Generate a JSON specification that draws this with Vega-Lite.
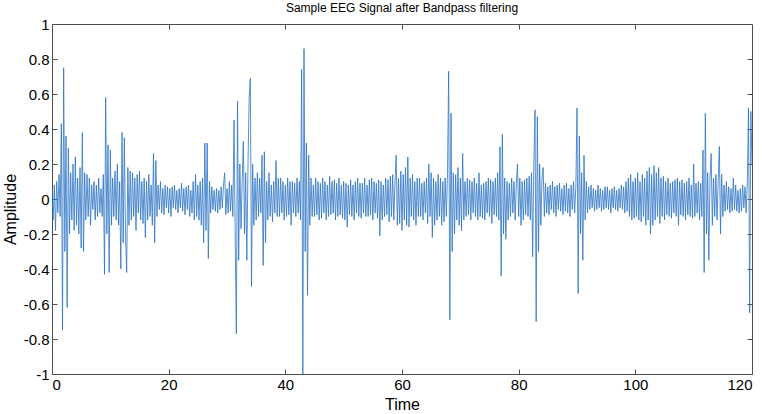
{
"$schema": "https://vega.github.io/schema/vega-lite/v6.json",
"width": 700, "height": 350,
"autosize": {"type": "none"},
"padding": {"left": 52, "top": 24, "right": 10, "bottom": 40},
"background": "white",
"title": {"text": "Sample EEG Signal after Bandpass filtering", "fontSize": 12, "fontWeight": "normal", "font": "Liberation Sans", "color": "#000000", "offset": 2, "anchor": "middle"},
"config": {
  "view": {"stroke": "#4d4d4d", "strokeWidth": 1},
  "axis": {"grid": false, "domain": false, "tickColor": "#4d4d4d", "tickSize": -5, "labelFont": "Liberation Sans", "labelFontSize": 15, "labelColor": "#000000", "titleFont": "Liberation Sans", "titleFontSize": 16, "titleFontWeight": "normal", "titleColor": "#000000"}
},
"data": {"values": [
{"t":0,"a":0.05},{"t":0.2,"a":-0.12},{"t":0.4,"a":0.08},{"t":0.6,"a":-0.18},{"t":0.8,"a":0.1},
{"t":1,"a":-0.08},{"t":1.2,"a":0.14},{"t":1.4,"a":-0.1},{"t":1.6,"a":0.43},{"t":1.8,"a":-0.75},
{"t":2,"a":0.75},{"t":2.2,"a":-0.3},{"t":2.4,"a":0.36},{"t":2.6,"a":-0.62},{"t":2.8,"a":0.29},
{"t":3,"a":-0.2},{"t":3.2,"a":0.15},{"t":3.4,"a":-0.12},{"t":3.6,"a":0.2},{"t":3.8,"a":-0.18},
{"t":4,"a":0.24},{"t":4.2,"a":-0.15},{"t":4.4,"a":0.12},{"t":4.6,"a":-0.2},{"t":4.8,"a":0.18},
{"t":5,"a":-0.28},{"t":5.2,"a":0.38},{"t":5.4,"a":-0.3},{"t":5.6,"a":0.15},{"t":5.8,"a":-0.12},
{"t":6,"a":0.14},{"t":6.2,"a":-0.1},{"t":6.4,"a":0.12},{"t":6.6,"a":-0.15},{"t":6.8,"a":0.08},
{"t":7,"a":-0.06},{"t":7.2,"a":0.1},{"t":7.4,"a":-0.12},{"t":7.6,"a":0.08},{"t":7.8,"a":-0.1},
{"t":8,"a":0.12},{"t":8.2,"a":-0.08},{"t":8.4,"a":0.06},{"t":8.6,"a":-0.1},{"t":8.8,"a":0.14},
{"t":9,"a":-0.43},{"t":9.2,"a":0.58},{"t":9.4,"a":-0.2},{"t":9.6,"a":0.31},{"t":9.8,"a":-0.42},
{"t":10,"a":0.28},{"t":10.2,"a":-0.15},{"t":10.4,"a":0.12},{"t":10.6,"a":-0.1},{"t":10.8,"a":0.16},
{"t":11,"a":-0.12},{"t":11.2,"a":0.2},{"t":11.4,"a":-0.15},{"t":11.6,"a":0.1},{"t":11.8,"a":-0.4},
{"t":12,"a":0.38},{"t":12.2,"a":-0.25},{"t":12.4,"a":0.35},{"t":12.6,"a":-0.2},{"t":12.8,"a":-0.42},
{"t":13,"a":0.18},{"t":13.2,"a":-0.15},{"t":13.4,"a":0.16},{"t":13.6,"a":-0.12},{"t":13.8,"a":0.15},
{"t":14,"a":-0.1},{"t":14.2,"a":0.12},{"t":14.4,"a":-0.18},{"t":14.6,"a":0.14},{"t":14.8,"a":-0.08},
{"t":15,"a":0.16},{"t":15.2,"a":-0.12},{"t":15.4,"a":0.1},{"t":15.6,"a":-0.14},{"t":15.8,"a":0.12},
{"t":16,"a":-0.22},{"t":16.2,"a":0.1},{"t":16.4,"a":-0.12},{"t":16.6,"a":0.14},{"t":16.8,"a":-0.1},
{"t":17,"a":0.08},{"t":17.2,"a":-0.15},{"t":17.4,"a":0.26},{"t":17.6,"a":-0.25},{"t":17.8,"a":0.22},
{"t":18,"a":-0.1},{"t":18.2,"a":0.08},{"t":18.4,"a":-0.06},{"t":18.6,"a":0.1},{"t":18.8,"a":-0.08},
{"t":19,"a":0.06},{"t":19.2,"a":-0.09},{"t":19.4,"a":0.08},{"t":19.6,"a":-0.05},{"t":19.8,"a":0.07},
{"t":20,"a":-0.08},{"t":20.2,"a":0.06},{"t":20.4,"a":-0.1},{"t":20.6,"a":0.07},{"t":20.8,"a":-0.05},
{"t":21,"a":0.08},{"t":21.2,"a":-0.06},{"t":21.4,"a":0.05},{"t":21.6,"a":-0.08},{"t":21.8,"a":0.06},
{"t":22,"a":-0.05},{"t":22.2,"a":0.09},{"t":22.4,"a":-0.07},{"t":22.6,"a":0.06},{"t":22.8,"a":-0.09},
{"t":23,"a":0.07},{"t":23.2,"a":-0.06},{"t":23.4,"a":0.08},{"t":23.6,"a":-0.1},{"t":23.8,"a":0.05},
{"t":24,"a":-0.08},{"t":24.2,"a":0.1},{"t":24.4,"a":-0.12},{"t":24.6,"a":0.14},{"t":24.8,"a":-0.1},
{"t":25,"a":0.08},{"t":25.2,"a":-0.12},{"t":25.4,"a":0.1},{"t":25.6,"a":-0.15},{"t":25.8,"a":0.12},
{"t":26,"a":-0.25},{"t":26.2,"a":0.32},{"t":26.4,"a":-0.18},{"t":26.6,"a":0.32},{"t":26.8,"a":-0.34},
{"t":27,"a":0.1},{"t":27.2,"a":-0.08},{"t":27.4,"a":0.07},{"t":27.6,"a":-0.06},{"t":27.8,"a":0.05},
{"t":28,"a":-0.07},{"t":28.2,"a":0.06},{"t":28.4,"a":-0.08},{"t":28.6,"a":0.05},{"t":28.8,"a":-0.06},
{"t":29,"a":0.07},{"t":29.2,"a":-0.05},{"t":29.4,"a":0.08},{"t":29.6,"a":0.15},{"t":29.8,"a":-0.09},
{"t":30,"a":0.06},{"t":30.2,"a":-0.08},{"t":30.4,"a":0.1},{"t":30.6,"a":-0.07},{"t":30.8,"a":0.08},
{"t":31,"a":-0.1},{"t":31.2,"a":0.45},{"t":31.4,"a":-0.2},{"t":31.6,"a":-0.77},{"t":31.8,"a":0.56},
{"t":32,"a":-0.35},{"t":32.2,"a":0.2},{"t":32.4,"a":-0.17},{"t":32.6,"a":0.1},{"t":32.8,"a":0.33},
{"t":33,"a":-0.2},{"t":33.2,"a":0.15},{"t":33.4,"a":-0.35},{"t":33.6,"a":0.2},{"t":33.8,"a":0.58},
{"t":34,"a":0.69},{"t":34.2,"a":-0.5},{"t":34.4,"a":0.2},{"t":34.6,"a":-0.15},{"t":34.8,"a":0.12},
{"t":35,"a":-0.12},{"t":35.2,"a":0.15},{"t":35.4,"a":-0.1},{"t":35.6,"a":0.12},{"t":35.8,"a":-0.08},
{"t":36,"a":0.25},{"t":36.2,"a":-0.38},{"t":36.4,"a":0.27},{"t":36.6,"a":-0.25},{"t":36.8,"a":0.1},
{"t":37,"a":-0.12},{"t":37.2,"a":0.15},{"t":37.4,"a":-0.1},{"t":37.6,"a":0.08},{"t":37.8,"a":-0.13},
{"t":38,"a":0.1},{"t":38.2,"a":-0.08},{"t":38.4,"a":0.22},{"t":38.6,"a":-0.1},{"t":38.8,"a":0.12},
{"t":39,"a":-0.1},{"t":39.2,"a":0.12},{"t":39.4,"a":-0.08},{"t":39.6,"a":0.1},{"t":39.8,"a":-0.12},
{"t":40,"a":0.08},{"t":40.2,"a":-0.1},{"t":40.4,"a":0.12},{"t":40.6,"a":-0.09},{"t":40.8,"a":0.1},
{"t":41,"a":-0.15},{"t":41.2,"a":0.1},{"t":41.4,"a":-0.08},{"t":41.6,"a":0.09},{"t":41.8,"a":-0.1},
{"t":42,"a":0.12},{"t":42.2,"a":-0.08},{"t":42.4,"a":0.1},{"t":42.6,"a":-0.12},{"t":42.8,"a":0.74},
{"t":43,"a":-1.0},{"t":43.2,"a":0.86},{"t":43.4,"a":-0.3},{"t":43.6,"a":0.32},{"t":43.8,"a":-0.55},
{"t":44,"a":0.25},{"t":44.2,"a":-0.15},{"t":44.4,"a":0.12},{"t":44.6,"a":-0.1},{"t":44.8,"a":0.08},
{"t":45,"a":-0.1},{"t":45.2,"a":0.12},{"t":45.4,"a":-0.09},{"t":45.6,"a":0.1},{"t":45.8,"a":-0.12},
{"t":46,"a":0.09},{"t":46.2,"a":-0.11},{"t":46.4,"a":0.12},{"t":46.6,"a":-0.08},{"t":46.8,"a":0.1},
{"t":47,"a":-0.12},{"t":47.2,"a":0.08},{"t":47.4,"a":-0.1},{"t":47.6,"a":0.13},{"t":47.8,"a":-0.09},
{"t":48,"a":0.1},{"t":48.2,"a":-0.08},{"t":48.4,"a":0.11},{"t":48.6,"a":-0.12},{"t":48.8,"a":0.09},
{"t":49,"a":-0.1},{"t":49.2,"a":0.12},{"t":49.4,"a":-0.09},{"t":49.6,"a":0.08},{"t":49.8,"a":-0.11},
{"t":50,"a":0.1},{"t":50.2,"a":-0.12},{"t":50.4,"a":0.09},{"t":50.6,"a":-0.16},{"t":50.8,"a":0.08},
{"t":51,"a":-0.09},{"t":51.2,"a":0.11},{"t":51.4,"a":-0.1},{"t":51.6,"a":0.08},{"t":51.8,"a":-0.12},
{"t":52,"a":0.1},{"t":52.2,"a":-0.08},{"t":52.4,"a":0.12},{"t":52.6,"a":-0.1},{"t":52.8,"a":0.09},
{"t":53,"a":-0.11},{"t":53.2,"a":0.09},{"t":53.4,"a":-0.08},{"t":53.6,"a":0.12},{"t":53.8,"a":-0.1},
{"t":54,"a":0.08},{"t":54.2,"a":-0.1},{"t":54.4,"a":0.11},{"t":54.6,"a":-0.09},{"t":54.8,"a":0.12},
{"t":55,"a":-0.12},{"t":55.2,"a":0.1},{"t":55.4,"a":-0.08},{"t":55.6,"a":0.09},{"t":55.8,"a":-0.11},
{"t":56,"a":0.11},{"t":56.2,"a":-0.21},{"t":56.4,"a":0.1},{"t":56.6,"a":-0.12},{"t":56.8,"a":0.08},
{"t":57,"a":-0.1},{"t":57.2,"a":0.12},{"t":57.4,"a":-0.09},{"t":57.6,"a":0.11},{"t":57.8,"a":-0.13},
{"t":58,"a":0.13},{"t":58.2,"a":-0.1},{"t":58.4,"a":0.14},{"t":58.6,"a":-0.12},{"t":58.8,"a":0.1},
{"t":59,"a":0.25},{"t":59.2,"a":-0.15},{"t":59.4,"a":0.12},{"t":59.6,"a":-0.14},{"t":59.8,"a":0.16},
{"t":60,"a":-0.18},{"t":60.2,"a":0.14},{"t":60.4,"a":-0.12},{"t":60.6,"a":0.18},{"t":60.8,"a":-0.15},
{"t":61,"a":0.24},{"t":61.2,"a":-0.16},{"t":61.4,"a":0.12},{"t":61.6,"a":-0.1},{"t":61.8,"a":0.14},
{"t":62,"a":-0.12},{"t":62.2,"a":0.1},{"t":62.4,"a":-0.15},{"t":62.6,"a":0.12},{"t":62.8,"a":-0.1},
{"t":63,"a":0.12},{"t":63.2,"a":-0.1},{"t":63.4,"a":0.09},{"t":63.6,"a":-0.12},{"t":63.8,"a":0.1},
{"t":64,"a":-0.08},{"t":64.2,"a":0.12},{"t":64.4,"a":-0.14},{"t":64.6,"a":0.2},{"t":64.8,"a":-0.1},
{"t":65,"a":0.15},{"t":65.2,"a":-0.22},{"t":65.4,"a":0.12},{"t":65.6,"a":-0.15},{"t":65.8,"a":0.1},
{"t":66,"a":-0.12},{"t":66.2,"a":0.14},{"t":66.4,"a":-0.1},{"t":66.6,"a":0.12},{"t":66.8,"a":-0.15},
{"t":67,"a":0.1},{"t":67.2,"a":-0.13},{"t":67.4,"a":0.12},{"t":67.6,"a":-0.1},{"t":67.8,"a":0.15},
{"t":68,"a":0.73},{"t":68.2,"a":-0.69},{"t":68.4,"a":0.49},{"t":68.6,"a":-0.3},{"t":68.8,"a":0.15},
{"t":69,"a":-0.2},{"t":69.2,"a":0.14},{"t":69.4,"a":-0.12},{"t":69.6,"a":0.18},{"t":69.8,"a":-0.15},
{"t":70,"a":0.12},{"t":70.2,"a":-0.18},{"t":70.4,"a":0.26},{"t":70.6,"a":-0.12},{"t":70.8,"a":0.1},
{"t":71,"a":-0.1},{"t":71.2,"a":0.12},{"t":71.4,"a":-0.09},{"t":71.6,"a":0.11},{"t":71.8,"a":-0.12},
{"t":72,"a":0.1},{"t":72.2,"a":-0.08},{"t":72.4,"a":0.12},{"t":72.6,"a":-0.1},{"t":72.8,"a":0.09},
{"t":73,"a":-0.12},{"t":73.2,"a":0.15},{"t":73.4,"a":-0.1},{"t":73.6,"a":0.08},{"t":73.8,"a":-0.11},
{"t":74,"a":0.09},{"t":74.2,"a":-0.12},{"t":74.4,"a":0.1},{"t":74.6,"a":-0.08},{"t":74.8,"a":0.12},
{"t":75,"a":-0.1},{"t":75.2,"a":0.11},{"t":75.4,"a":-0.14},{"t":75.6,"a":0.1},{"t":75.8,"a":-0.09},
{"t":76,"a":0.12},{"t":76.2,"a":-0.1},{"t":76.4,"a":0.15},{"t":76.6,"a":-0.12},{"t":76.8,"a":0.3},
{"t":77,"a":-0.44},{"t":77.2,"a":0.37},{"t":77.4,"a":-0.2},{"t":77.6,"a":0.12},{"t":77.8,"a":-0.23},
{"t":78,"a":0.1},{"t":78.2,"a":-0.12},{"t":78.4,"a":0.09},{"t":78.6,"a":-0.1},{"t":78.8,"a":0.12},
{"t":79,"a":-0.08},{"t":79.2,"a":0.1},{"t":79.4,"a":-0.12},{"t":79.6,"a":0.09},{"t":79.8,"a":0.2},
{"t":80,"a":-0.1},{"t":80.2,"a":0.12},{"t":80.4,"a":-0.15},{"t":80.6,"a":0.1},{"t":80.8,"a":-0.12},
{"t":81,"a":0.11},{"t":81.2,"a":-0.09},{"t":81.4,"a":0.12},{"t":81.6,"a":-0.1},{"t":81.8,"a":0.13},
{"t":82,"a":-0.12},{"t":82.2,"a":0.15},{"t":82.4,"a":-0.33},{"t":82.6,"a":0.2},{"t":82.8,"a":0.51},
{"t":83,"a":-0.7},{"t":83.2,"a":0.47},{"t":83.4,"a":-0.3},{"t":83.6,"a":0.2},{"t":83.8,"a":-0.15},
{"t":84,"a":0.12},{"t":84.2,"a":0.18},{"t":84.4,"a":-0.1},{"t":84.6,"a":0.09},{"t":84.8,"a":-0.08},
{"t":85,"a":0.07},{"t":85.2,"a":-0.09},{"t":85.4,"a":0.08},{"t":85.6,"a":-0.06},{"t":85.8,"a":0.1},
{"t":86,"a":-0.08},{"t":86.2,"a":0.07},{"t":86.4,"a":-0.1},{"t":86.6,"a":0.08},{"t":86.8,"a":-0.06},
{"t":87,"a":0.09},{"t":87.2,"a":-0.07},{"t":87.4,"a":0.06},{"t":87.6,"a":-0.09},{"t":87.8,"a":0.08},
{"t":88,"a":-0.07},{"t":88.2,"a":0.09},{"t":88.4,"a":-0.08},{"t":88.6,"a":0.06},{"t":88.8,"a":-0.1},
{"t":89,"a":0.08},{"t":89.2,"a":-0.06},{"t":89.4,"a":0.1},{"t":89.6,"a":-0.08},{"t":89.8,"a":0.07},
{"t":90,"a":0.52},{"t":90.2,"a":-0.54},{"t":90.4,"a":0.36},{"t":90.6,"a":-0.2},{"t":90.8,"a":0.15},
{"t":91,"a":-0.35},{"t":91.2,"a":0.25},{"t":91.4,"a":-0.12},{"t":91.6,"a":0.1},{"t":91.8,"a":-0.08},
{"t":92,"a":0.07},{"t":92.2,"a":-0.06},{"t":92.4,"a":0.08},{"t":92.6,"a":-0.05},{"t":92.8,"a":0.06},
{"t":93,"a":-0.07},{"t":93.2,"a":0.05},{"t":93.4,"a":-0.06},{"t":93.6,"a":0.08},{"t":93.8,"a":-0.05},
{"t":94,"a":0.06},{"t":94.2,"a":-0.07},{"t":94.4,"a":0.05},{"t":94.6,"a":-0.06},{"t":94.8,"a":0.07},
{"t":95,"a":-0.05},{"t":95.2,"a":0.07},{"t":95.4,"a":-0.06},{"t":95.6,"a":0.05},{"t":95.8,"a":-0.08},
{"t":96,"a":0.06},{"t":96.2,"a":-0.05},{"t":96.4,"a":0.07},{"t":96.6,"a":-0.06},{"t":96.8,"a":0.05},
{"t":97,"a":-0.07},{"t":97.2,"a":0.06},{"t":97.4,"a":-0.05},{"t":97.6,"a":0.08},{"t":97.8,"a":-0.06},
{"t":98,"a":0.07},{"t":98.2,"a":-0.08},{"t":98.4,"a":0.1},{"t":98.6,"a":-0.07},{"t":98.8,"a":0.12},
{"t":99,"a":-0.1},{"t":99.2,"a":0.14},{"t":99.4,"a":-0.12},{"t":99.6,"a":0.1},{"t":99.8,"a":-0.11},
{"t":100,"a":0.12},{"t":100.2,"a":-0.1},{"t":100.4,"a":0.15},{"t":100.6,"a":-0.12},{"t":100.8,"a":0.1},
{"t":101,"a":-0.13},{"t":101.2,"a":0.14},{"t":101.4,"a":-0.1},{"t":101.6,"a":0.12},{"t":101.8,"a":-0.15},
{"t":102,"a":0.16},{"t":102.2,"a":-0.12},{"t":102.4,"a":0.18},{"t":102.6,"a":-0.2},{"t":102.8,"a":0.14},
{"t":103,"a":-0.15},{"t":103.2,"a":0.19},{"t":103.4,"a":-0.12},{"t":103.6,"a":0.15},{"t":103.8,"a":-0.1},
{"t":104,"a":0.18},{"t":104.2,"a":-0.14},{"t":104.4,"a":0.12},{"t":104.6,"a":-0.1},{"t":104.8,"a":0.13},
{"t":105,"a":-0.12},{"t":105.2,"a":0.1},{"t":105.4,"a":-0.09},{"t":105.6,"a":0.12},{"t":105.8,"a":-0.1},
{"t":106,"a":0.09},{"t":106.2,"a":-0.11},{"t":106.4,"a":0.1},{"t":106.6,"a":-0.08},{"t":106.8,"a":0.11},
{"t":107,"a":-0.1},{"t":107.2,"a":0.12},{"t":107.4,"a":-0.15},{"t":107.6,"a":0.1},{"t":107.8,"a":-0.09},
{"t":108,"a":0.11},{"t":108.2,"a":-0.1},{"t":108.4,"a":0.09},{"t":108.6,"a":-0.12},{"t":108.8,"a":0.1},
{"t":109,"a":-0.09},{"t":109.2,"a":0.12},{"t":109.4,"a":-0.1},{"t":109.6,"a":0.08},{"t":109.8,"a":-0.11},
{"t":110,"a":0.2},{"t":110.2,"a":-0.1},{"t":110.4,"a":0.09},{"t":110.6,"a":-0.08},{"t":110.8,"a":0.1},
{"t":111,"a":-0.12},{"t":111.2,"a":0.09},{"t":111.4,"a":-0.1},{"t":111.6,"a":0.28},{"t":111.8,"a":-0.42},
{"t":112,"a":0.49},{"t":112.2,"a":-0.2},{"t":112.4,"a":0.15},{"t":112.6,"a":-0.35},{"t":112.8,"a":0.12},
{"t":113,"a":0.26},{"t":113.2,"a":-0.15},{"t":113.4,"a":0.12},{"t":113.6,"a":-0.1},{"t":113.8,"a":0.14},
{"t":114,"a":-0.12},{"t":114.2,"a":0.1},{"t":114.4,"a":0.3},{"t":114.6,"a":-0.2},{"t":114.8,"a":0.14},
{"t":115,"a":-0.1},{"t":115.2,"a":0.08},{"t":115.4,"a":-0.07},{"t":115.6,"a":0.1},{"t":115.8,"a":-0.06},
{"t":116,"a":0.07},{"t":116.2,"a":-0.08},{"t":116.4,"a":0.06},{"t":116.6,"a":-0.07},{"t":116.8,"a":0.12},
{"t":117,"a":-0.06},{"t":117.2,"a":0.08},{"t":117.4,"a":-0.07},{"t":117.6,"a":0.05},{"t":117.8,"a":-0.08},
{"t":118,"a":0.06},{"t":118.2,"a":-0.07},{"t":118.4,"a":0.08},{"t":118.6,"a":-0.05},{"t":118.8,"a":0.07},
{"t":119,"a":-0.08},{"t":119.2,"a":0.1},{"t":119.4,"a":0.52},{"t":119.6,"a":-0.65},{"t":119.8,"a":0.5},
{"t":120,"a":0.2}
]},
"layer": [
  {
    "mark": {"type": "line", "color": "#2c74c4", "strokeWidth": 0.8, "clip": true},
    "encoding": {
      "x": {"field": "t", "type": "quantitative", "scale": {"domain": [0, 120], "nice": false, "zero": false},
        "axis": {"title": "Time", "values": [0, 20, 40, 60, 80, 100, 120], "labelPadding": 8, "titlePadding": 4, "labelExpr": "'' + datum.value"}},
      "y": {"field": "a", "type": "quantitative", "scale": {"domain": [-1, 1], "nice": false, "zero": false},
        "axis": {"title": "Amplitude", "values": [-1, -0.8, -0.6, -0.4, -0.2, 0, 0.2, 0.4, 0.6, 0.8, 1], "labelPadding": 8, "labelExpr": "'' + datum.value",
          "titleAngle": 270, "titleBaseline": "middle", "titleAlign": "center", "titleX": -42, "titleY": 185}}
    }
  },
  {
    "mark": {"type": "point", "opacity": 0},
    "encoding": {
      "x": {"field": "t", "type": "quantitative", "scale": {"domain": [0, 120], "nice": false, "zero": false},
        "axis": {"orient": "top", "title": null, "labels": false, "values": [20, 40, 60, 80, 100]}},
      "y": {"field": "a", "type": "quantitative", "scale": {"domain": [-1, 1], "nice": false, "zero": false},
        "axis": {"orient": "right", "title": null, "labels": false, "values": [-0.8, -0.6, -0.4, -0.2, 0, 0.2, 0.4, 0.6, 0.8]}}
    }
  }
],
"resolve": {"axis": {"x": "independent", "y": "independent"}}
}
